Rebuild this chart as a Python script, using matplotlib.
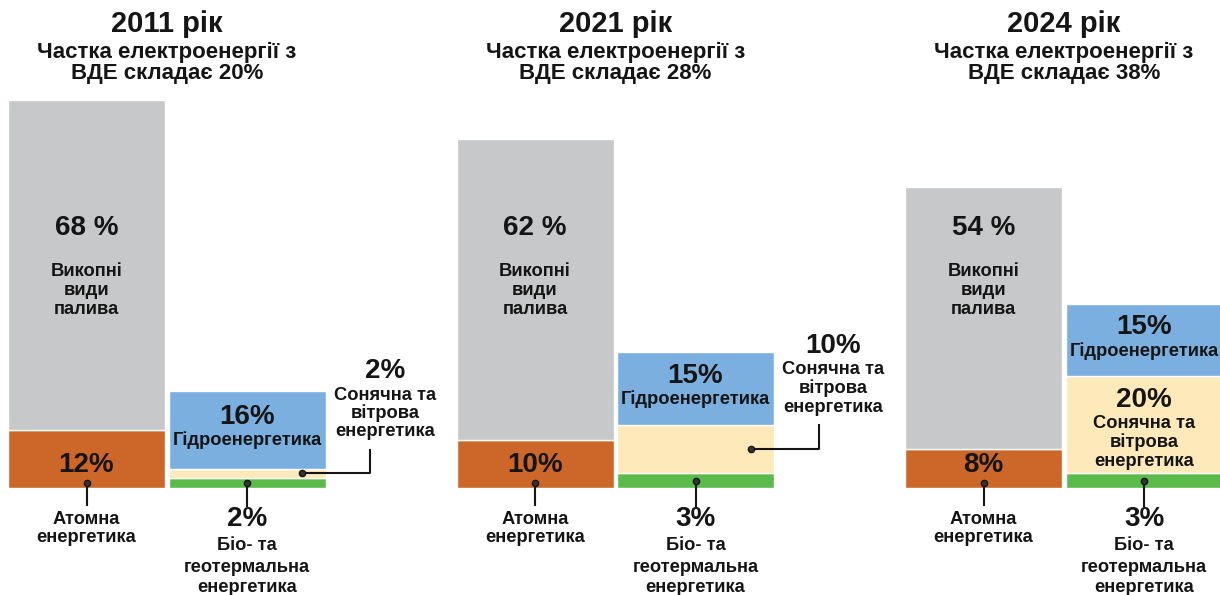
import matplotlib
matplotlib.use("Agg")
import matplotlib.pyplot as plt

# data (% of electricity generation)
years = ["2011", "2021", "2024"]
res_share = [20, 28, 38]
fossil = [68, 62, 54]
nuclear = [12, 10, 8]
hydro = [16, 15, 15]
solar_wind = [2, 10, 20]
bio_geo = [2, 3, 3]

C_FOSSIL = "#c7c8ca"
C_NUC = "#cd6629"
C_HYDRO = "#7bafdf"
C_SOLAR = "#fde9ba"
C_BIO = "#5aba4a"
TXT = "#151515"

plt.rcParams["font.family"] = ["Liberation Sans", "DejaVu Sans"]
plt.rcParams["font.weight"] = "bold"

SCALE = 4.85  # pixels per percent
BASE = 488    # baseline in pixels from top
SMALL = 13.2


def ypx(p):
    return (BASE - p) / SCALE


fig = plt.figure(figsize=(12.2, 5.95), dpi=100)
ax = fig.add_axes([0, 0, 1, 1])
ax.set_xlim(0, 1220)
ax.set_ylim(ypx(595), ypx(0))
ax.axis("off")

W = 157
SPACING = 448.5


def lines(x, y0, step, texts, size=SMALL):
    for k, t in enumerate(texts):
        ax.text(x, ypx(y0 + k * step), t, ha="center", va="center",
                fontsize=size, fontweight="bold", color=TXT)


for i, yr in enumerate(years):
    xl = 86.5 + SPACING * i
    xr = xl + 160.5
    xc = (xl + xr) / 2

    # left stack: nuclear + fossil
    ax.bar(xl, nuclear[i], W, color=C_NUC, edgecolor="white", linewidth=1)
    ax.bar(xl, fossil[i], W, bottom=nuclear[i], color=C_FOSSIL,
           edgecolor="white", linewidth=1)
    # right stack: bio + solar/wind + hydro
    ax.bar(xr, bio_geo[i], W, color=C_BIO, edgecolor="white", linewidth=1)
    ax.bar(xr, solar_wind[i], W, bottom=bio_geo[i], color=C_SOLAR,
           edgecolor="white", linewidth=1)
    ax.bar(xr, hydro[i], W, bottom=bio_geo[i] + solar_wind[i],
           color=C_HYDRO, edgecolor="white", linewidth=1)

    # titles
    ax.text(xc, ypx(24), f"{yr} рік", ha="center", va="center",
            fontsize=21, fontweight="bold", color=TXT)
    ax.text(xc, ypx(52), "Частка електроенергії з", ha="center",
            va="center", fontsize=16, fontweight="bold", color=TXT)
    ax.text(xc, ypx(74), f"ВДЕ складає {res_share[i]}%", ha="center",
            va="center", fontsize=16, fontweight="bold", color=TXT)

    # fossil label
    ax.text(xl, ypx(228), f"{fossil[i]} %", ha="center", va="center",
            fontsize=20, fontweight="bold", color=TXT)
    lines(xl, 272, 18.5, ["Викопні", "види", "палива"])

    # nuclear label
    ax.text(xl, ypx(465), f"{nuclear[i]}%", ha="center", va="center",
            fontsize=20, fontweight="bold", color=TXT)
    ax.plot([xl, xl], [1.0, ypx(505)], color=TXT, lw=1.5)
    ax.plot(xl, 1.0, "o", color=TXT, ms=4.5, mfc="#333333")
    lines(xl, 519, 18.5, ["Атомна", "енергетика"])

    # hydro label
    h_mid = bio_geo[i] + solar_wind[i] + hydro[i] / 2
    ax.text(xr, h_mid + 2.6, f"{hydro[i]}%", ha="center", va="center",
            fontsize=20, fontweight="bold", color=TXT)
    ax.text(xr, h_mid - 2.2, "Гідроенергетика", ha="center", va="center",
            fontsize=SMALL, fontweight="bold", color=TXT)

    # bio label
    b_mid = bio_geo[i] / 2
    ax.plot([xr, xr], [b_mid, ypx(506)], color=TXT, lw=1.5)
    ax.plot(xr, b_mid, "o", color=TXT, ms=4.5, mfc="#333333")
    ax.text(xr, ypx(519), f"{bio_geo[i]}%", ha="center", va="center",
            fontsize=20, fontweight="bold", color=TXT)
    lines(xr, 546, 21, ["Біо- та", "геотермальна", "енергетика"])

    # solar / wind label
    s_mid = bio_geo[i] + solar_wind[i] / 2
    s_lines = ["Сонячна та", "вітрова", "енергетика"]
    if solar_wind[i] >= 15:
        ax.text(xr, ypx(400), f"{solar_wind[i]}%", ha="center", va="center",
                fontsize=20, fontweight="bold", color=TXT)
        lines(xr, 423, 19.5, s_lines)
    else:
        top_px = 450 if i == 0 else 425
        lx = xr + 138
        ax.plot([xr + 55, xr + 123, xr + 123], [s_mid, s_mid, ypx(top_px)],
                color=TXT, lw=1.5)
        ax.plot(xr + 55, s_mid, "o", color=TXT, ms=4.5, mfc="#333333")
        ax.text(lx, ypx(top_px - 79), f"{solar_wind[i]}%", ha="center",
                va="center", fontsize=20, fontweight="bold", color=TXT)
        lines(lx, top_px - 55, 18.5, s_lines)

fig.savefig("out.png", dpi=100)
